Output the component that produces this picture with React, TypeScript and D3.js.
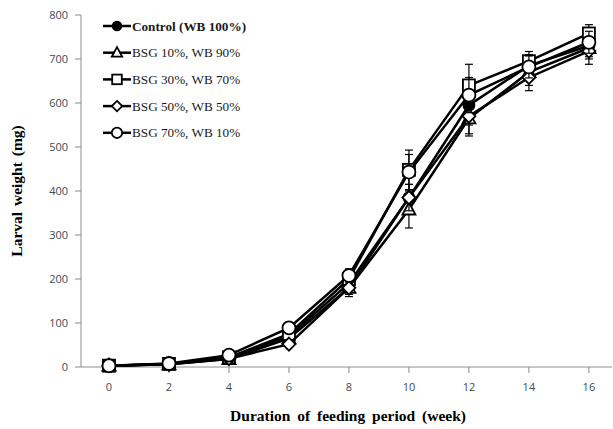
import * as d3 from "d3";

const weeks = [0, 2, 4, 6, 8, 10, 12, 14, 16];
const seriesNames = [
  "Control (WB 100%)",
  "BSG 10%, WB 90%",
  "BSG 30%, WB 70%",
  "BSG 50%, WB 50%",
  "BSG 70%, WB 10%",
];
const control = [3, 7, 20, 70, 190, 385, 595, 685, 730];
const bsg10 = [3, 6, 18, 65, 180, 358, 565, 670, 725];
const bsg30 = [3, 7, 22, 75, 200, 448, 640, 695, 758];
const bsg50 = [3, 6, 19, 52, 180, 385, 570, 658, 718];
const bsg70 = [3, 8, 27, 89, 208, 443, 618, 682, 738];
const controlErr = [1, 2, 4, 10, 15, 30, 45, 25, 25];
const bsg10Err = [1, 2, 4, 8, 15, 42, 40, 30, 25];
const bsg30Err = [1, 2, 4, 10, 15, 45, 48, 22, 20];
const bsg50Err = [1, 2, 4, 8, 20, 30, 40, 30, 30];
const bsg70Err = [1, 2, 4, 12, 15, 40, 40, 25, 25];
const yTicks = [0, 100, 200, 300, 400, 500, 600, 700, 800];

const values = [control, bsg10, bsg30, bsg50, bsg70];
const errors = [controlErr, bsg10Err, bsg30Err, bsg50Err, bsg70Err];
const markers = ["filledCircle", "triangle", "square", "diamond", "circle"];

const W = 613;
const H = 429;

function Marker({ kind, cx, cy, s = 1 }: { kind: string; cx: number; cy: number; s?: number }) {
  const common = { stroke: "black", strokeWidth: 1.8 };
  if (kind === "filledCircle")
    return <circle cx={cx} cy={cy} r={5.5 * s} fill="black" {...common} />;
  if (kind === "circle")
    return <circle cx={cx} cy={cy} r={6.5 * s} fill="white" {...common} />;
  if (kind === "square")
    return (
      <rect x={cx - 6 * s} y={cy - 6 * s} width={12 * s} height={12 * s} fill="white" {...common} />
    );
  if (kind === "diamond")
    return (
      <path
        d={`M${cx},${cy - 6.5 * s}L${cx + 6.5 * s},${cy}L${cx},${cy + 6.5 * s}L${cx - 6.5 * s},${cy}Z`}
        fill="white"
        {...common}
      />
    );
  return (
    <path
      d={`M${cx},${cy - 7 * s}L${cx + 6.5 * s},${cy + 5 * s}L${cx - 6.5 * s},${cy + 5 * s}Z`}
      fill="white"
      {...common}
    />
  );
}

export default function App() {
  const x = d3.scaleLinear().domain([-0.933, 16.77]).range([81, 612]);
  const y = d3.scaleLinear().domain([0, 800]).range([367, 15]);
  const line = d3
    .line<number>()
    .x((_, i) => x(weeks[i]))
    .y((d) => y(d));

  const axisColor = "#8c8c8c";
  const tickFont = "'Open Sans', 'DejaVu Sans', sans-serif";
  const serif = "'Liberation Serif', 'Times New Roman', serif";

  return (
    <svg
      width={W}
      height={H}
      style={{ position: "absolute", left: 0, top: 0, background: "white" }}
    >
      {/* axes */}
      <line x1={x.range()[0]} x2={x.range()[0]} y1={y(800)} y2={y(0)} stroke={axisColor} />
      <line x1={x.range()[0]} x2={x.range()[1]} y1={y(0)} y2={y(0)} stroke={axisColor} />
      {yTicks.map((t) => (
        <g key={t}>
          <line x1={75} x2={81} y1={y(t)} y2={y(t)} stroke={axisColor} />
          <text
            x={68}
            y={y(t)}
            dy="0.35em"
            textAnchor="end"
            fontSize={11}
            fontFamily={tickFont}
            fill="#3f4a57"
          >
            {t}
          </text>
        </g>
      ))}
      {weeks.map((w) => (
        <g key={w}>
          <line x1={x(w)} x2={x(w)} y1={y(0)} y2={y(0) + 6} stroke={axisColor} />
          <text
            x={x(w)}
            y={391}
            textAnchor="middle"
            fontSize={11}
            fontFamily={tickFont}
            fill="#3f4a57"
          >
            {w}
          </text>
        </g>
      ))}

      {/* series */}
      {values.map((vals, si) => (
        <g key={si}>
          <path d={line(vals) || undefined} fill="none" stroke="black" strokeWidth={2.5} />
          {vals.map((v, i) => {
            const e = errors[si][i];
            const cx = x(weeks[i]);
            return (
              <g key={i} stroke="black" strokeWidth={1.2}>
                <line x1={cx} x2={cx} y1={y(v - e)} y2={y(v + e)} />
                <line x1={cx - 4} x2={cx + 4} y1={y(v - e)} y2={y(v - e)} />
                <line x1={cx - 4} x2={cx + 4} y1={y(v + e)} y2={y(v + e)} />
              </g>
            );
          })}
          {vals.map((v, i) => (
            <Marker key={i} kind={markers[si]} cx={x(weeks[i])} cy={y(v)} />
          ))}
        </g>
      ))}

      {/* legend */}
      {seriesNames.map((n, i) => {
        const ly = 26 + i * 26.7;
        return (
          <g key={n}>
            <line x1={103} x2={131} y1={ly} y2={ly} stroke="black" strokeWidth={2.5} />
            <Marker kind={markers[i]} cx={117} cy={ly} s={0.8} />
            <text
              x={132}
              y={ly}
              dy="0.35em"
              fontSize={13.2}
              fontFamily={serif}
              fontWeight={i === 0 ? "bold" : "normal"}
              fill="#1a1a1a"
            >
              {n}
            </text>
          </g>
        );
      })}

      {/* axis titles */}
      <text
        transform={`translate(22,${191}) rotate(-90)`}
        textAnchor="middle"
        fontSize={15.5}
        fontWeight="bold"
        fontFamily={serif}
        style={{ wordSpacing: "2px" }}
      >
        Larval weight (mg)
      </text>
      <text
        x={348}
        y={421}
        textAnchor="middle"
        fontSize={15.5}
        fontWeight="bold"
        fontFamily={serif}
        style={{ wordSpacing: "3px" }}
      >
        Duration of feeding period (week)
      </text>
    </svg>
  );
}
